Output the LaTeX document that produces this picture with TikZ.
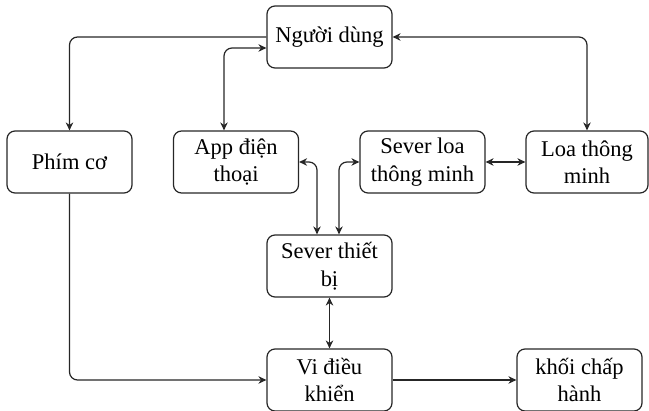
\documentclass[tikz,border=0pt]{standalone}
\usepackage{fontspec}
\setmainfont{Liberation Serif}
\usetikzlibrary{arrows.meta}
\begin{document}
\begin{tikzpicture}[x=1pt,y=-1pt,
  blk/.style={draw=black!85, line width=1.2pt, rounded corners=8pt, minimum width=125pt, minimum height=62pt, inner sep=0pt, align=center, font=\fontsize{22.5}{27.5}\selectfont},
  conn/.style={draw=black!85, line width=1.2pt, rounded corners=8pt},
  tip/.tip={Stealth[length=8pt,width=7.5pt]}]
\useasboundingbox (0,0) rectangle (649,411);
\node[blk] (user) at (329.5,37) {Người dùng};
\node[blk] (phim) at (69.5,162) {Phím cơ};
\node[blk] (app) at (236,162) {App điện\\thoại};
\node[blk] (sloa) at (422.5,162) {Sever loa\\thông minh};
\node[blk, minimum width=122pt] (loa) at (587,162) {Loa thông\\minh};
\node[blk] (stb) at (329.5,266) {Sever thiết\\bị};
\node[blk] (vi) at (329.5,380) {Vi điều\\khiển};
\node[blk] (khoi) at (579.5,380) {khối chấp\\hành};
\draw[conn,-tip] (user.west) -| (phim.north);
\draw[conn,tip-tip] ([yshift=-11pt]user.west) -| ([xshift=-12pt]app.north);
\draw[conn,tip-tip] (user.east) -| (loa.north);
\draw[conn,tip-tip] (sloa.east) -- (loa.west);
\draw[conn,tip-tip] (app.east) -| ([xshift=-12.5pt]stb.north);
\draw[conn,tip-tip] (sloa.west) -| ([xshift=9.5pt]stb.north);
\draw[conn,tip-tip] (stb.south) -- (vi.north);
\draw[conn,-tip] (phim.south) |- (vi.west);
\draw[conn,-tip] (vi.east) -- (khoi.west);
\end{tikzpicture}
\end{document}
